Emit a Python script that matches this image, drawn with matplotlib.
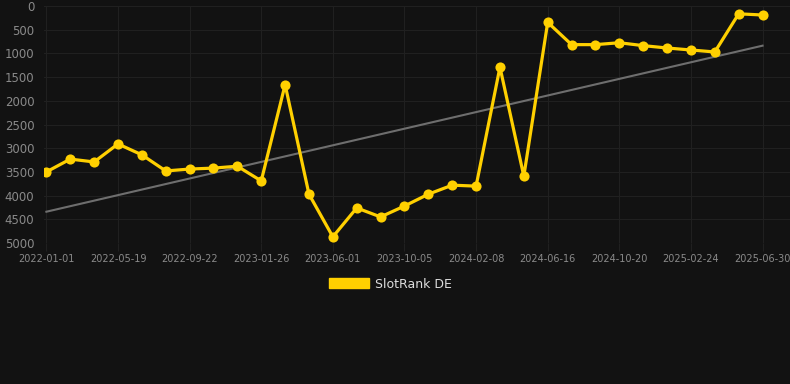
import numpy as np
import matplotlib
matplotlib.use('Agg')
import matplotlib.pyplot as plt
import matplotlib.patches as Patch

# rank values (lower is better), one point per ~6 weeks
ranks = [3500, 3230, 3290, 2910, 3140, 3480, 3440, 3420, 3380, 3690,
         1660, 3970, 4870, 4260, 4450, 4220, 3970, 3780, 3800, 1290,
         3590, 345, 815, 815, 775, 836, 886, 928, 970, 165, 190]
tick_labels = ['2022-01-01', '2022-05-19', '2022-09-22', '2023-01-26',
               '2023-06-01', '2023-10-05', '2024-02-08', '2024-06-16',
               '2024-10-20', '2025-02-24', '2025-06-30']
trend = [4340, 837]  # trend line start / end values
series_name = 'SlotRank DE'

bg = '#121212'
gold = '#FFD000'
grid_c = '#202020'

fig = plt.figure(figsize=(7.9, 3.84), dpi=100, facecolor=bg)
ax = fig.add_axes([44/790, 1 - 243/384, 1 - 44/790, (243 - 6)/384])
ax.set_facecolor(bg)

x = np.arange(len(ranks))
ax.plot([x[0], x[-1]], trend, color='#6e6e6e', lw=1.5, zorder=2)
ax.plot(x, ranks, color=gold, lw=2.3, marker='o', markersize=7.3,
        markeredgewidth=0, zorder=3)

ax.set_xlim(-0.1, 31.15)
ax.set_ylim(5000, 0)
ax.set_yticks(np.arange(0, 5001, 500))
ax.set_xticks(x[::3])
ax.set_xticklabels(tick_labels)

ax.grid(True, color=grid_c, lw=0.8)
ax.set_axisbelow(True)
for s in ax.spines.values():
    s.set_visible(False)
ax.tick_params(axis='y', length=0, pad=7, labelsize=8.5, labelcolor='#8a8a8a')
ax.tick_params(axis='x', length=6, color=grid_c, pad=2, labelsize=7,
               labelcolor='#8a8a8a')

handle = Patch.Patch(color=gold, label=series_name)
fig.legend(handles=[handle], loc='center', bbox_to_anchor=(0.494, 1 - 284/384),
           frameon=False, fontsize=9, labelcolor='#dddddd',
           handlelength=3.2, handleheight=0.9, handletextpad=0.5)

fig.savefig('out.png', dpi=100, facecolor=bg)
